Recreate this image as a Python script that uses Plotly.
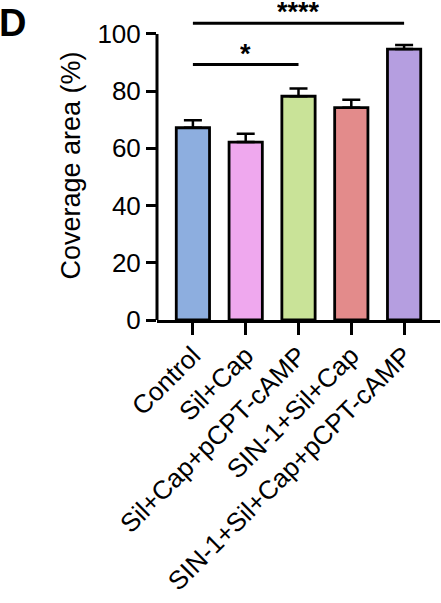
import plotly.graph_objects as go

groups = ["Control", "Sil+Cap", "Sil+Cap+pCPT-cAMP", "SIN-1+Sil+Cap", "SIN-1+Sil+Cap+pCPT-cAMP"]
coverage = [67.2, 62.2, 78.2, 74.2, 94.7]
sem = [2.6, 2.9, 2.7, 2.8, 1.4]
bar_colors = ["#8DAEDF", "#EFA8EE", "#C9E398", "#E38B8B", "#B59EE0"]

# significance brackets: (from group, to group, height, label)
sig_from = [0, 0]
sig_to = [2, 4]
sig_y = [89.3, 103.7]
sig_text = ["*", "****"]

FONT = "Liberation Sans, Arial, sans-serif"

W, H = 441, 603
L, R, T, B = 157, 1, 11, 283

fig = go.Figure()
fig.add_trace(
    go.Bar(
        x=list(range(len(groups))),
        y=coverage,
        width=0.63,
        marker=dict(color=bar_colors, line=dict(color="black", width=2.8)),
        error_y=dict(
            type="data",
            symmetric=False,
            array=sem,
            arrayminus=[0] * len(sem),
            color="black",
            thickness=2.5,
            width=9,
        ),
        showlegend=False,
    )
)

for a, b, y, t in zip(sig_from, sig_to, sig_y, sig_text):
    fig.add_trace(
        go.Scatter(
            x=[a, b],
            y=[y, y],
            mode="lines",
            line=dict(color="black", width=3),
            showlegend=False,
            hoverinfo="skip",
        )
    )
    # trimmed text box so the top bracket label stays inside the page
    fig.add_annotation(
        x=(a + b) / 2,
        y=y,
        text=f"<b>{t}</b>",
        showarrow=False,
        yanchor="bottom",
        yshift=-3,
        height=24,
        valign="middle",
        font=dict(family=FONT, size=27, color="black"),
    )

# y axis line stops at 100 like the original
fig.add_shape(
    type="line",
    xref="paper",
    yref="y",
    x0=0,
    x1=0,
    y0=0,
    y1=100,
    line=dict(color="black", width=3),
)

fig.add_annotation(
    xref="paper",
    yref="paper",
    x=-L / (W - L - R),
    y=1 + T / (H - T - B),
    xanchor="left",
    yanchor="top",
    xshift=-3,
    text="<b>D</b>",
    showarrow=False,
    font=dict(family=FONT, size=38, color="black"),
)

fig.update_layout(
    width=W,
    height=H,
    margin=dict(l=L, r=R, t=T, b=B, autoexpand=False),
    plot_bgcolor="white",
    paper_bgcolor="white",
    font=dict(family=FONT, size=27, color="black"),
)
fig.update_xaxes(
    range=[-0.68, 4.68],
    tickvals=list(range(len(groups))),
    ticktext=groups,
    tickangle=-45,
    ticks="outside",
    ticklen=12,
    tickwidth=2.5,
    tickcolor="black",
    ticklabelstandoff=-5,
    showline=True,
    linecolor="black",
    linewidth=3,
    showgrid=False,
    zeroline=False,
    automargin=False,
    tickfont=dict(family=FONT, size=26),
)
fig.update_yaxes(
    range=[0, 108],
    tickvals=[0, 20, 40, 60, 80, 100],
    ticks="outside",
    ticklen=10,
    tickwidth=2.5,
    tickcolor="black",
    showline=False,
    showgrid=False,
    zeroline=False,
    automargin=False,
    title=dict(text="Coverage area (%)", font=dict(family=FONT, size=27), standoff=8),
    tickfont=dict(family=FONT, size=26),
)

# drop the default 8px body margin so the figure sits at the window corner
fig.write_html(
    "out.html",
    config={"displayModeBar": False},
    post_script="document.body.style.margin = '0';",
)
